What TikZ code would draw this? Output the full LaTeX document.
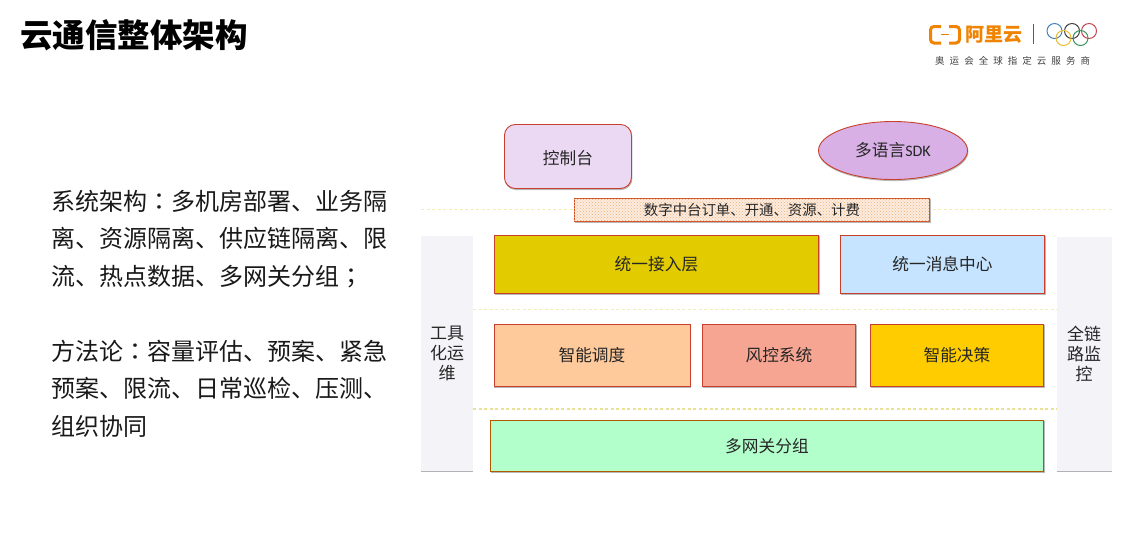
\documentclass[tikz,border=0pt]{standalone}
\usepackage{fontspec}
\setmainfont{Noto Sans CJK SC}
\newfontfamily\tcfont{Noto Sans CJK TC}
\newfontfamily\latinfont{Carlito}
\usetikzlibrary{shapes.geometric,patterns}
\definecolor{edgeRed}{HTML}{C8402C}
\definecolor{sideGrey}{HTML}{F4F3F7}
\definecolor{dashPale}{HTML}{F1EDB4}
\definecolor{dashZ}{HTML}{E9E296}
\definecolor{logoOrange}{HTML}{F08300}
\tikzset{
  x=1pt,y=-1pt,
  lbl/.style={font=\fontsize{16.7}{19}\selectfont,text=black!85},
  shadowed/.style={preaction={draw=black!28,fill=black!28,transform canvas={xshift=0.5pt,yshift=-1.1pt}}},
  boxx/.style={shadowed,draw=edgeRed,line width=0.9pt,inner sep=0,lbl,anchor=north west},
  sidebox/.style={preaction={fill=black!30,transform canvas={yshift=-1.1pt}},fill=sideGrey,draw=none,inner sep=0,lbl,anchor=north west,align=center},
  sepline/.style={line width=1.5pt,dash pattern=on 3pt off 2.5pt},
  ring/.style={draw,line width=1pt},
  bracket/.style={draw=logoOrange,line width=3pt,rounded corners=3.5pt},
}
\begin{document}
\begin{tikzpicture}
\useasboundingbox (0,0) rectangle (1127,558);
\fill[white] (0,0) rectangle (1127,558);
% title
\node[anchor=west,inner sep=0,font=\fontsize{32.5}{36}\selectfont\bfseries] (title) at (20,35) {云通信整体架构};
% left text
\node[anchor=north west,inner sep=0,align=left,font=\fontsize{24}{37.5}\selectfont,text=black!90] (body) at (51,190)
{系统架构{\tcfont ：}多机房部署、业务隔\\离、资源隔离、供应链隔离、限\\流、热点数据、多网关分组{\tcfont ；}\\[37.5pt]方法论{\tcfont ：}容量评估、预案、紧急\\预案、限流、日常巡检、压测、\\组织协同};
% separators
\coordinate (s1a) at (421,209.5); \coordinate (s1b) at (1112,209.5);
\coordinate (s2a) at (473,309.5); \coordinate (s2b) at (1057,309.5);
\coordinate (s3a) at (473,409); \coordinate (s3b) at (1057,409);
\draw[sepline,draw=dashPale] (s1a) -- (s1b);
\draw[sepline,draw=dashPale] (s2a) -- (s2b);
\draw[sepline,draw=dashZ,line width=1.2pt] (s3a) -- (s3b);
% side columns
\node[sidebox,minimum width=52pt,minimum height=235pt] (tool) at (420.5,235.5) {};
\node[lbl,align=center,font=\fontsize{17}{20}\selectfont] (toollbl) at (447,353) {工具\\化运\\维};
\node[sidebox,minimum width=55pt,minimum height=233.5pt] (mon) at (1057,237) {};
\node[lbl,align=center,font=\fontsize{17}{20}\selectfont] (monlbl) at (1084,354) {全链\\路监\\控};
% top
\node[boxx,rounded corners=11pt,fill={rgb,255:red,235;green,217;blue,243},minimum width=127pt,minimum height=64pt] (console) at (504,124) {\rule{0pt}{17pt}控制台};
\node[shadowed,ellipse,draw=edgeRed,line width=0.9pt,fill={rgb,255:red,216;green,176;blue,230},minimum width=149pt,minimum height=58pt,inner sep=0,lbl] (sdk) at (893,150.5) {多语言{\latinfont\fontsize{16}{16}\selectfont SDK}};
% pattern bar
\node[shadowed,draw=edgeRed!80!orange,line width=0.9pt,fill={rgb,255:red,252;green,236;blue,224},minimum width=355pt,minimum height=23pt,inner sep=0,anchor=north west] (bar) at (574,198) {};
\fill[pattern=crosshatch dots,pattern color=orange!55!brown!60] (bar.south west) rectangle (bar.north east);
\node[font=\fontsize{14.4}{16}\selectfont,text=black!85] (barlbl) at (bar.center) {数字中台订单、开通、资源、计费};
% row 1
\node[boxx,fill={rgb,255:red,226;green,204;blue,0},minimum width=324pt,minimum height=58pt] (access) at (494,235) {统一接入层};
\node[boxx,fill={rgb,255:red,198;green,228;blue,255},minimum width=204pt,minimum height=58pt] (msg) at (840,234.5) {统一消息中心};
% row 2
\node[boxx,fill={rgb,255:red,255;green,202;blue,155},minimum width=196pt,minimum height=62pt] (sched) at (493.5,324) {智能调度};
\node[boxx,fill={rgb,255:red,246;green,165;blue,146},minimum width=153pt,minimum height=62pt] (risk) at (702,324) {风控系统};
\node[boxx,fill={rgb,255:red,255;green,204;blue,0},minimum width=173pt,minimum height=62pt] (decide) at (870,324) {智能决策};
% row 3
\node[boxx,draw=orange!70!black,fill={rgb,255:red,178;green,255;blue,204},minimum width=553pt,minimum height=51pt] (gw) at (490,420) {多网关分组};
% logo
\draw[bracket] (941,26.5) -- (930.5,26.5) -- (930.5,43) -- (941,43);
\draw[bracket] (949,26.5) -- (959.5,26.5) -- (959.5,43) -- (949,43);
\draw[logoOrange,line width=1.6pt] (941,34.5) -- (949,34.5);
\node[inner sep=0,anchor=west,text=logoOrange,font=\fontsize{19}{20}\selectfont\bfseries] (ali) at (965,35) {阿里云};
\draw[black!65,line width=0.7pt] (1033.5,24) -- (1033.5,44);
\draw[ring,draw={rgb,255:red,70;green,130;blue,190}] (1054.5,31) circle (7.5);
\draw[ring,draw=black!75] (1072,31) circle (7.5);
\draw[ring,draw={rgb,255:red,200;green,70;blue,80}] (1089,31) circle (7.5);
\draw[ring,draw={rgb,255:red,235;green,190;blue,50}] (1063.5,38) circle (7.5);
\draw[ring,draw={rgb,255:red,60;green,150;blue,90}] (1080.5,38) circle (7.5);
\node[inner sep=0,text=black!75,font=\fontsize{9.5}{11}\selectfont,anchor=west] (sponsor) at (935,61) {\addfontfeatures{LetterSpace=53}奥运会全球指定云服务商};
\end{tikzpicture}
\end{document}
